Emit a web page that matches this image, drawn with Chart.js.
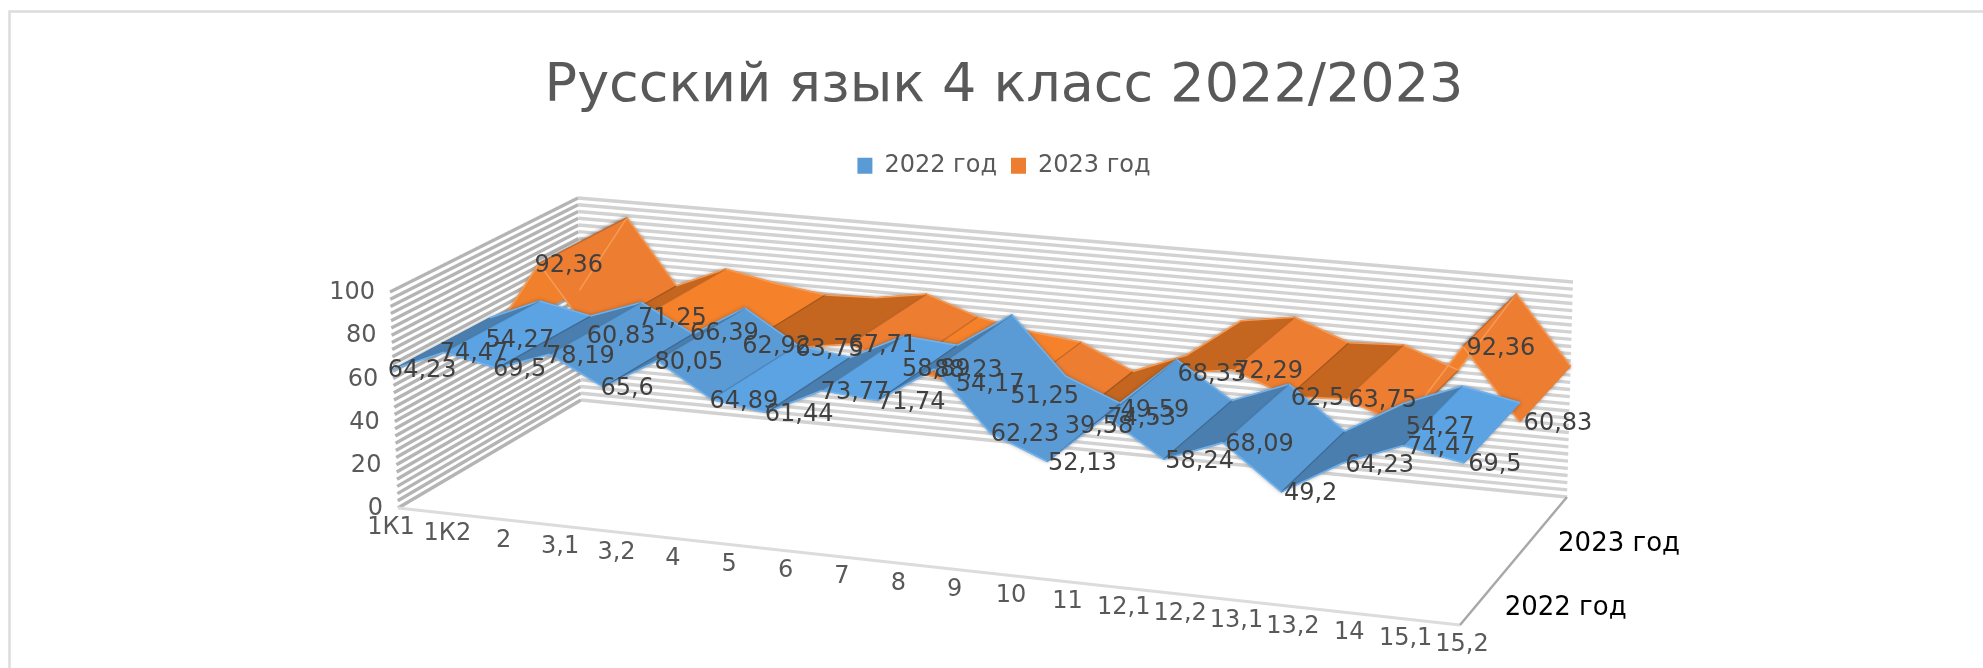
<!DOCTYPE html>
<html lang="ru">
<head>
<meta charset="utf-8">
<title>Русский язык 4 класс 2022/2023</title>
<style>html,body{margin:0;padding:0;background:#fff;overflow:hidden}canvas{display:block}</style>
<script src="https://cdn.jsdelivr.net/npm/chart.js@4/dist/chart.umd.min.js"></script>
</head>
<body>
<canvas id="c" width="1983" height="668"></canvas>
<script>
const chartTitle = 'Русский язык 4 класс 2022/2023';
const categories = ['1К1','1К2','2','3,1','3,2','4','5','6','7','8','9','10','11','12,1','12,2','13,1','13,2','14','15,1','15,2'];
const seriesNames = ['2022 год','2023 год'];
const values2022 = [64.23,74.47,69.5,78.19,65.6,80.05,64.89,61.44,73.77,71.74,88.23,62.23,52.13,74.53,58.24,68.09,49.2,64.23,74.47,69.5];
const values2023 = [54.27,92.36,60.83,71.25,66.39,62.92,63.75,67.71,58.89,54.17,51.25,39.58,49.59,68.33,72.29,62.5,63.75,54.27,92.36,60.83];
const gridStep = 10/3;

const FONT = '"DejaVu Sans"';
const palette = [
  {base:'#5B9BD5', bright:'#5CA3E3', dark:'#4A7EAE', flip:'#5590C6', edge:'#6FB2EE'},
  {base:'#ED7D31', bright:'#F5822B', dark:'#C4661F', flip:'#F0802C', edge:'#F79A52'}
];
// box corners on screen: floor and top planes (front-left, front-right, back-right, back-left)
const floorQuad = [[398,508],[1460,625],[1567,497],[581,400]];
const topQuad   = [[390,292],[1466,392],[1573,282],[578,198]];

function homography(q){
  const [[x0,y0],[x1,y1],[x2,y2],[x3,y3]] = q;
  const sx=x0-x1+x2-x3, sy=y0-y1+y2-y3, dx1=x1-x2, dx2=x3-x2, dy1=y1-y2, dy2=y3-y2;
  const den=dx1*dy2-dx2*dy1;
  const g=(sx*dy2-dx2*sy)/den, h=(dx1*sy-sx*dy1)/den;
  const a=x1-x0+g*x1, b=x3-x0+h*x3, d=y1-y0+g*y1, e=y3-y0+h*y3;
  return (u,w)=>{const k=g*u+h*w+1;return [(a*u+b*w+x0)/k,(d*u+e*w+y0)/k];};
}
const F=homography(floorQuad), T=homography(topQuad);
const P=(u,d,v)=>{const a=F(u,d),b=T(u,d);return [a[0]+(b[0]-a[0])*v,a[1]+(b[1]-a[1])*v];};
const poly=(ctx,pts)=>{ctx.beginPath();pts.forEach((p,i)=>i?ctx.lineTo(p[0],p[1]):ctx.moveTo(p[0],p[1]));};

const box3d = {
  id:'box3d',
  beforeDraw(chart){
    const ctx=chart.ctx; ctx.save();
    ctx.fillStyle='#fff'; ctx.fillRect(0,0,chart.width,chart.height);
    ctx.strokeStyle='#dcdcdc'; ctx.lineWidth=2.5;
    ctx.strokeRect(9.5,11.5,chart.width+40,chart.height+40);
    ctx.restore();
  },
  afterDatasetsDraw(chart){
    const ctx=chart.ctx, xs=chart.scales.x, ys=chart.scales.y;
    const U=px=>(px-xs.left)/xs.width, V=py=>(ys.bottom-py)/ys.height;
    ctx.save();
    // walls
    ctx.lineCap='butt';
    ctx.filter='blur(0.7px)';
    for(let t=ys.min;t<=ys.max+1e-6;t+=gridStep){
      const v=V(ys.getPixelForValue(t));
      ctx.strokeStyle='#b4b4b4'; ctx.lineWidth=3.4;
      poly(ctx,[P(0,0,v),P(0,1,v)]); ctx.stroke();
      ctx.strokeStyle='#d2d2d2'; ctx.lineWidth=3.4;
      poly(ctx,[P(0,1,v),P(1,1,v)]); ctx.stroke();
    }
    // floor edges
    ctx.strokeStyle='#dcdcdc'; ctx.lineWidth=3;
    poly(ctx,[P(0,0,0),P(1,0,0)]); ctx.stroke();
    ctx.strokeStyle='#a8a8a8'; ctx.lineWidth=2.5;
    poly(ctx,[P(1,0,0),P(1,1,0)]); ctx.stroke();
    ctx.filter='none';

    // ribbons, back series first
    const n=chart.data.datasets.length;
    const front=[];
    for(let s=n-1;s>=0;s--){
      const els=chart.getDatasetMeta(s).data, d0=s/n, d1=(s+1)/n, pal=palette[s];
      const vals=chart.data.datasets[s].data;
      const pf=els.map(e=>P(U(e.x),d0,V(e.y))), pb=els.map(e=>P(U(e.x),d1,V(e.y)));
      front[s]=pf;
      const quads=[];
      for(let i=0;i<els.length-1;i++){
        const q=[pf[i],pf[i+1],pb[i+1],pb[i]];
        const area=(q[1][0]-q[0][0])*(q[3][1]-q[0][1])-(q[1][1]-q[0][1])*(q[3][0]-q[0][0]);
        const dv=vals[i+1]-vals[i];
        const col=area>0?pal.flip:dv>=0?pal.dark:dv>-6?pal.bright:pal.base;
        quads.push({q,col,area});
      }
      // soft outline
      ctx.save();
      ctx.shadowColor='rgba(60,60,60,.6)'; ctx.shadowBlur=4;
      quads.forEach(o=>{poly(ctx,o.q);ctx.closePath();ctx.fillStyle=o.col;ctx.fill();});
      ctx.restore();
      // faces: flipped (underside) ones first
      [...quads].sort((a,b)=>(b.area>0)-(a.area>0)).forEach(o=>{
        poly(ctx,o.q);ctx.closePath();
        ctx.fillStyle=o.col;ctx.fill();
        ctx.strokeStyle=o.col;ctx.lineWidth=1;ctx.stroke();
      });
      // bevel on the long edges and creases across the ribbon
      ctx.lineJoin='round';
      ctx.strokeStyle=pal.edge; ctx.lineWidth=1.6;
      poly(ctx,pf); ctx.stroke();
      poly(ctx,pb); ctx.stroke();
      ctx.strokeStyle='rgba(0,0,0,.16)'; ctx.lineWidth=1.4;
      for(let i=1;i<els.length-1;i++){
        if(quads[i-1].col!==quads[i].col){poly(ctx,[pf[i],pb[i]]);ctx.stroke();}
      }
    }

    // value labels
    ctx.font='24px '+FONT; ctx.textAlign='left'; ctx.textBaseline='middle'; ctx.fillStyle='#404040';
    for(let s=0;s<n;s++){
      chart.getDatasetMeta(s).data.forEach((el,i)=>{
        const val=chart.data.datasets[s].data[i];
        ctx.fillText(String(val).replace('.',','),front[s][i][0]-5+9*U(el.x),front[s][i][1]+2);
      });
    }
    // value axis labels
    ctx.fillStyle='#595959'; ctx.textAlign='right';
    for(let t=0;t<=100;t+=20){
      const p=P(0,0,V(ys.getPixelForValue(t)));
      ctx.fillText(String(t),p[0]-15,p[1]+1);
    }
    // category labels
    ctx.textAlign='center';
    const A=P(0,0,0),B=P(1,0,0);
    chart.data.labels.forEach((lab,i)=>{
      const u=U(xs.getPixelForValue(i));
      ctx.fillText(lab,A[0]-7+(B[0]+2-A[0]+7)*u,A[1]+20+(B[1]-A[1])*u);
    });
    // series (depth) labels
    ctx.fillStyle='#000'; ctx.font='26px '+FONT;
    chart.data.datasets.forEach((ds,s)=>{
      const p=P(1,(s+.5)/n,0);
      ctx.fillText(ds.label,p[0]+77,p[1]+17);
    });
    ctx.restore();
  }
};

new Chart(document.getElementById('c'),{
  type:'line',
  data:{
    labels:categories,
    datasets:[
      {label:seriesNames[0],data:values2022,backgroundColor:palette[0].base,borderColor:palette[0].base,borderWidth:0,showLine:false,pointRadius:0},
      {label:seriesNames[1],data:values2023,backgroundColor:palette[1].base,borderColor:palette[1].base,borderWidth:0,showLine:false,pointRadius:0}
    ]
  },
  plugins:[box3d],
  options:{
    responsive:false,animation:false,
    layout:{padding:{left:390,right:365,bottom:168,top:0}},
    scales:{
      x:{type:'category',offset:false,ticks:{display:false},grid:{display:false},border:{display:false}},
      y:{min:0,max:100,ticks:{display:false,stepSize:20},grid:{display:false},border:{display:false}}
    },
    plugins:{
      tooltip:{enabled:false},
      title:{display:true,text:chartTitle,color:'#595959',font:{family:FONT,size:54,weight:'normal'},padding:{top:55,bottom:20}},
      legend:{position:'top',labels:{color:'#595959',font:{family:FONT,size:24},boxWidth:15,boxHeight:16,padding:14}}
    }
  }
});
</script>
</body>
</html>
